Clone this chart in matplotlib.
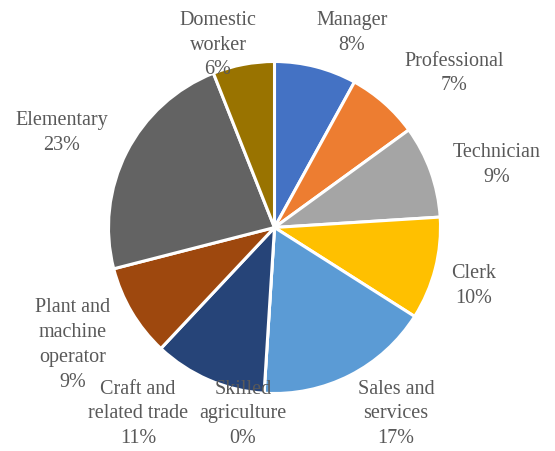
import matplotlib.pyplot as plt

# occupation shares (%)
categories = ["Manager", "Professional", "Technician", "Clerk",
              "Sales and\nservices", "Skilled\nagriculture",
              "Craft and\nrelated trade", "Plant and\nmachine\noperator",
              "Elementary", "Domestic\nworker"]
shares = [8, 7, 9, 10, 17, 0, 11, 9, 23, 6]
colors = ["#4472C4", "#ED7D31", "#A5A5A5", "#FFC000", "#5B9BD5",
          "#70AD47", "#264478", "#9E480E", "#636363", "#997300"]

# label anchor points, in pie-radius units
label_pos = [(0.467, 1.178), (1.081, 0.934), (1.340, 0.383), (1.202, -0.346),
             (0.732, -1.117), (-0.190, -1.117), (-0.822, -1.117),
             (-1.214, -0.702), (-1.280, 0.575), (-0.340, 1.105)]

plt.rcParams["font.family"] = ["Liberation Serif", "DejaVu Serif"]

fig = plt.figure(figsize=(5.55, 4.52), dpi=100)
ax = fig.add_axes([0, 0, 1, 1])

ax.pie(shares, colors=colors, startangle=90, counterclock=False,
       radius=1.0, center=(0, 0),
       wedgeprops=dict(edgecolor="white", linewidth=2.2))

for name, val, (x, y) in zip(categories, shares, label_pos):
    ax.text(x, y, f"{name}\n{val}%", ha="center", va="center",
            fontsize=14.5, color="#595959", linespacing=1.42, zorder=5)

ax.set_xlim(-274.5 / 166, (555 - 274.5) / 166)
ax.set_ylim(-(452 - 228.5) / 166, 228.5 / 166)
ax.set_aspect("auto")
ax.axis("off")

fig.savefig("out.png", dpi=100)
